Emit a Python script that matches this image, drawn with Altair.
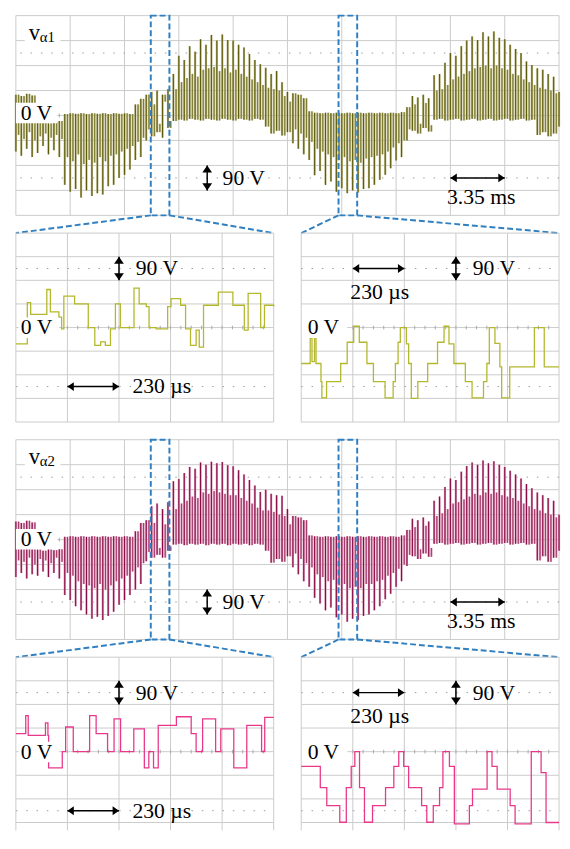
import altair as alt
import pandas as pd

# ---------------- data ----------------
# overview traces: one main switching pulse every 0.335 ms (0.1 div), values in V
OV_STEP = 0.335
OV_SPAN = 33.5            # 10 div x 3.35 ms
OV_X_GRID = [0, 3.35, 6.7, 10.05, 13.4, 16.75, 20.1, 23.45, 26.8, 30.15, 33.5]
V_GRID = [360, 270, 180, 90, 0, -90, -180, -270, -360]
DOT_V = [225, -225]

LO_A1 = [-130, -145, -120, -150, -135, -110, -140, -125, -150,
         -250, -275, -265, -296, -270, -290, -280, -285, -255, -250, -225, -214, -195, -160, -150, -90,
         -75, -60, -80, -45,
         -20, -15, -18, -12, -15, -18, -12, -15, -18, -12, -15, -18, -12, -15, -18, -12, -15,
         -40, -65, -55, -72, -60,
         -100, -120, -140,
         -160, -215, -200, -250, -238, -275, -262, -280, -270, -278, -265, -262, -250, -232, -214, -190, -162, -150,
         -90, -55, -65, -45, -58,
         -15, -12, -18, -15, -12, -18, -15, -12, -18, -15, -12, -18, -15, -12, -18, -15, -12, -18, -15,
         -70, -60, -75, -65, -40]
HI_A1 = [75, 70, 78, 72, -25, -20, -28, -22, -20,
         5, 8, 6, 8, 5, 8, 6, 8, 5, 8, 6, 8, 5, 40, 60, 75,
         85, 90, 75, 95,
         150, 215, 200, 250, 230, 275, 255, 290, 270, 292, 272, 270, 255, 245, 222, 200, 185,
         172, 150, 160, 120, 85,
         80, 75, 62,
         15, 10, 8, 10, 8, 10, 8, 10, 8, 10, 8, 10, 8, 10, 8, 10, 8, 12,
         30, 70, 65, 75, 62,
         145, 150, 190, 225, 215, 250, 270, 285, 272, 300, 285, 303, 280, 275, 255, 240, 225, 195, 182,
         170, 165, 150, 140, 85]
# shorter intermediate-level pulses between the main ones
MID_A1 = [-70, -85, -60, -90, -75, -65, -80, -70, -85,
          -150, -165, -140, -175, -160, -170, -150, -165, -145, -140, -130, -120, -110, -95, -80, -50,
          40, -30, 50, -20,
          95, 120, 135, 150, 140, 165, 170, 175, 160, 170, 155, 165, 150, 140, 130, 120, 110,
          100, 95, 90, 70, 50,
          -50, -65, -80,
          -95, -120, -130, -140, -150, -160, -150, -165, -160, -170, -155, -150, -145, -140, -130, -115, -100, -90,
          -50, 40, -30, 45, -35,
          90, 95, 110, 130, 140, 150, 160, 170, 175, 180, 170, 180, 170, 165, 150, 145, 130, 120, 110,
          100, 95, 90, 80]

LO_A2 = [-135, -120, -140, -125, -130, -115, -135, -120, -140,
         -200, -218, -240, -255, -270, -285, -278, -290, -275, -260, -235, -218, -200, -180, -160, -78,
         -65, -55, -65, -40,
         -18, -15, -20, -15, -18, -15, -20, -15, -18, -15, -20, -15, -18, -15, -20, -15, -18,
         -40, -83, -70, -80, -60,
         -100, -125, -150,
         -170, -210, -230, -255, -245, -280, -270, -296, -285, -290, -275, -270, -255, -240, -215, -195, -170, -150,
         -95, -60, -70, -50, -62,
         -15, -12, -18, -15, -12, -18, -15, -12, -18, -15, -12, -18, -15, -12, -18, -15, -12, -18, -15,
         -75, -60, -80, -65, -40]
HI_A2 = [65, 60, 68, 62, -35, -40, -30, -38, -35,
         10, 12, 10, 12, 10, 12, 10, 12, 10, 12, 10, 12, 10, 30, 60, 70,
         120, 130, 110, 135,
         210, 218, 240, 262, 255, 278, 270, 281, 275, 280, 268, 264, 250, 235, 215, 195, 172,
         180, 165, 160, 158, 110,
         85, 80, 70,
         15, 12, 10, 12, 10, 12, 10, 12, 10, 12, 10, 12, 10, 12, 10, 12, 10, 15,
         35, 75, 70, 80, 65,
         140, 155, 190, 220, 215, 245, 265, 278, 270, 285, 275, 282, 270, 262, 248, 235, 220, 200, 185,
         170, 160, 150, 140, 90]
MID_A2 = [-75, -80, -65, -90, -70, -75, -85, -65, -80,
          -120, -130, -150, -160, -165, -175, -160, -180, -165, -150, -140, -130, -115, -100, -85, -45,
          60, -30, 55, -25,
          110, 130, 140, 155, 150, 170, 165, 175, 170, 165, 160, 160, 150, 140, 130, 115, 105,
          105, 100, 90, 85, 55,
          -50, -70, -85,
          -100, -125, -135, -150, -145, -165, -160, -175, -170, -175, -160, -160, -150, -145, -130, -120, -105, -90,
          -55, 45, -35, 50, -30,
          85, 95, 110, 130, 135, 145, 155, 165, 160, 170, 165, 170, 160, 155, 150, 140, 130, 120, 110,
          105, 95, 90, 80]

# zoom windows (ms) marked by the dashed boxes
BOX_START = [8.32, 19.9]
BOX_END = [9.47, 21.05]

# zoomed traces: step sequences (time in us, level in V)
ZM_SPAN = 1150            # 5 div x 230 us
ZM_X_GRID = [0, 230, 460, 690, 920, 1150]

ZA1_T = [0, 51, 66, 138, 154, 192, 204, 214, 262, 323, 352, 378, 399, 422, 444, 466, 527, 550, 582, 594,
         626, 677, 692, 735, 757, 779, 804, 818, 837, 903, 968, 1019, 1036, 1092, 1109, 1150]
ZA1_V = [-62, 95, 50, 145, 60, 40, -5, 120, 90, 0, -68, -55, -68, -5, 90, 0, 150, 90, 80, 0,
         -5, 80, 110, 85, -5, -68, -10, -75, 85, 135, 85, -10, 130, 0, 85, 80]
ZB1_T = [0, 40, 48, 59, 66, 88, 92, 113, 176, 205, 234, 259, 293, 322, 374, 410, 420, 432, 442, 469,
         479, 491, 520, 564, 608, 637, 659, 681, 732, 762, 813, 828, 839, 864, 886, 894, 930, 1040, 1084, 1150]
ZB1_V = [-137, -40, -130, -40, -137, -206, -268, -206, -137, -56, 5, -56, -137, -206, -268, -206, -137, -56, 0, -62,
         -137, -270, -206, -137, -56, 5, -62, -137, -206, -268, -206, -137, 0, -60, -150, -268, -150, 0, -150, -150]
ZA2_T = [0, 44, 55, 132, 143, 146, 207, 222, 256, 329, 358, 409, 438, 467, 526, 573, 593, 614, 635, 716,
         782, 804, 833, 891, 914, 972, 1030, 1096, 1110, 1150]
ZA2_V = [69, 137, 62, 110, 62, -62, 0, 94, 0, 137, 69, 0, 125, 0, 87, -62, 0, -62, 100, 133,
         69, 0, 125, 0, 87, -62, 100, 0, 131, 131]
ZB2_T = [0, 85, 114, 172, 201, 223, 239, 260, 282, 318, 376, 413, 435, 457, 479, 537, 560, 589, 617, 632,
         661, 683, 750, 764, 829, 851, 874, 932, 954, 1026, 1070, 1092, 1150]
ZB2_V = [-56, -137, -206, -269, -137, -56, 0, -137, -269, -206, -137, -56, 0, -56, -137, -206, -269, -206, -137, 0,
         -56, -275, -206, -143, 0, -56, -143, -206, -275, 0, -80, -270, -270]

# ---------------- style / layout ----------------
FONT = "Liberation Serif"
FS = 22
GRID_C = "#cbcbcb"
DOT_C = "#9c9c9c"
TICK_C = "#a8a8a8"
BLUE = "#2f7fc1"
OLIVE_DARK, OLIVE_LIGHT = "#5e5b0b", "#bbb884"
MAROON_DARK, MAROON_LIGHT = "#8a0c46", "#d894b4"
YELLOW, PINK = "#b3b82c", "#e8388a"

OV_W = 552
OV_H = 203
ZP_W, ZP_GAP = 262, 28          # each zoom panel and the gap between them (px)
ZP_DIV = 24                     # px per vertical division in the zoom panels
ZH1, ZH2 = 192, 176
ROW_GAP = 18
US_PX = ZM_SPAN / ZP_W
R_OFF = (ZP_W + ZP_GAP) * US_PX          # right zoom panel offset on the shared row scale
ROW_SPAN = OV_W * US_PX

UP = "M0,0L0.9,1.3L-0.9,1.3Z"
DOWN = "M0,0L0.9,-1.3L-0.9,-1.3Z"
LEFT = "M0,0L1.3,-0.9L1.3,0.9Z"
RIGHT = "M0,0L-1.3,-0.9L-1.3,0.9Z"
MU = "\u00b5"


def X(f, xs):
    return alt.X(f, type="quantitative", scale=xs, axis=None)


def Y(f, ys):
    return alt.Y(f, type="quantitative", scale=ys, axis=None)


def text_layer(rows, xs, ys, align="left", baseline="middle", size=FS):
    df = pd.DataFrame(rows, columns=["x", "y", "s"])
    return alt.Chart(df).mark_text(font=FONT, fontSize=size, align=align, baseline=baseline,
                                   color="black").encode(x=X("x", xs), y=Y("y", ys), text="s:N")


def white_box(x0, x1, y0, y1, xs, ys):
    df = pd.DataFrame({"x": [x0], "x2": [x1], "y": [y0], "y2": [y1]})
    return alt.Chart(df).mark_rect(color="white", opacity=1).encode(
        x=X("x", xs), x2="x2:Q", y=Y("y", ys), y2="y2:Q")


def v_arrow(xv, y0, y1, xs, ys):
    line = alt.Chart(pd.DataFrame({"x": [xv], "y": [y0], "y2": [y1]})).mark_rule(
        color="black", strokeWidth=1.5).encode(x=X("x", xs), y=Y("y", ys), y2="y2:Q")
    heads = alt.Chart(pd.DataFrame({"x": [xv, xv], "y": [y0, y1], "s": [UP, DOWN]})).mark_point(
        filled=True, color="black", opacity=1, size=121).encode(
        x=X("x", xs), y=Y("y", ys), shape=alt.Shape("s:N", scale=None))
    return [line, heads]


def h_arrow(x0, x1, yv, xs, ys):
    line = alt.Chart(pd.DataFrame({"x": [x0], "x2": [x1], "y": [yv]})).mark_rule(
        color="black", strokeWidth=1.5).encode(x=X("x", xs), x2="x2:Q", y=Y("y", ys))
    heads = alt.Chart(pd.DataFrame({"x": [x0, x1], "y": [yv, yv], "s": [LEFT, RIGHT]})).mark_point(
        filled=True, color="black", opacity=1, size=100).encode(
        x=X("x", xs), y=Y("y", ys), shape=alt.Shape("s:N", scale=None))
    return [line, heads]


def center_ticks(x0, x1, step, half_v, xs, ys):
    # small graticule ticks along the 0 V line
    n = int(round((x1 - x0) / step))
    df = pd.DataFrame({"x": [x0 + i * step for i in range(1, n)], "a": [-half_v] * (n - 1), "b": [half_v] * (n - 1)})
    return alt.Chart(df).mark_rule(color=TICK_C, strokeWidth=1).encode(x=X("x", xs), y=Y("a", ys), y2="b:Q")


def overview(lo, hi, mid, dark, light, sub, zero_y):
    xs = alt.Scale(domain=[0, OV_SPAN], nice=False, zero=False)
    ys = alt.Scale(domain=[-360, 360], nice=False, zero=False)
    L = []
    L.append(alt.Chart(pd.DataFrame({"g": OV_X_GRID})).mark_rule(color=GRID_C, strokeWidth=1).encode(x=X("g", xs)))
    L.append(alt.Chart(pd.DataFrame({"g": V_GRID})).mark_rule(color=GRID_C, strokeWidth=1).encode(y=Y("g", ys)))
    L.append(alt.Chart(pd.DataFrame({"g": DOT_V})).mark_rule(
        color=DOT_C, strokeDash=[1.5, 9], strokeWidth=1).encode(y=Y("g", ys)))
    L.append(center_ticks(0, OV_SPAN, OV_SPAN / 50, 7, xs, ys))
    main = pd.DataFrame({"t": [round(i * OV_STEP, 4) for i in range(len(lo))], "lo": lo, "hi": hi})
    # intermediate pulses start from the main pulse's resting level (the end nearer 0 V)
    rest = [h if abs(h) < abs(l) else l for l, h in zip(lo, hi)]
    sec = pd.DataFrame({"t": [round((i + 0.5) * OV_STEP, 4) for i in range(len(mid))],
                        "a": rest[:len(mid)], "b": mid})
    L.append(alt.Chart(sec).mark_rule(color=light, strokeWidth=2.2).encode(x=X("t", xs), y=Y("a", ys), y2="b:Q"))
    L.append(alt.Chart(main).mark_rule(color=light, strokeWidth=2.2).encode(x=X("t", xs), y=Y("lo", ys), y2="hi:Q"))
    L.append(alt.Chart(sec).mark_rule(color=dark, strokeWidth=0.8, opacity=0.85).encode(
        x=X("t", xs), y=Y("a", ys), y2="b:Q"))
    L.append(alt.Chart(main).mark_rule(color=dark, strokeWidth=1.1).encode(x=X("t", xs), y=Y("lo", ys), y2="hi:Q"))
    bdf = pd.DataFrame({"a": BOX_START, "b": BOX_END, "y0": [-360] * 2, "y1": [360] * 2})
    L.append(alt.Chart(bdf).mark_rect(filled=False, stroke=BLUE, strokeDash=[6, 3], strokeWidth=2).encode(
        x=X("a", xs), x2="b:Q", y=Y("y0", ys), y2="y1:Q"))
    # dashed connectors down to the zoom panels of the next row
    edges = [0, ZP_W / OV_W * OV_SPAN, (ZP_W + ZP_GAP) / OV_W * OV_SPAN, OV_SPAN]
    y_low = -360 - ROW_GAP / (OV_H / 8) * 90
    cdf = pd.DataFrame({"x": [BOX_START[0], BOX_END[0], BOX_START[1], BOX_END[1]],
                        "y": [-360] * 4, "x2": edges, "y2": [y_low] * 4})
    L.append(alt.Chart(cdf).mark_rule(stroke=BLUE, strokeDash=[6, 3], strokeWidth=2).encode(
        x=X("x", xs), y=Y("y", ys), x2="x2:Q", y2="y2:Q"))
    L.append(white_box(0.0, 2.55, zero_y - 36, zero_y + 38, xs, ys))
    L.append(text_layer([(0.3, zero_y, "0 V")], xs, ys))
    L.append(white_box(0.55, 2.75, 250, 305, xs, ys))
    L.append(text_layer([(0.8, 271, "v")], xs, ys, baseline="alphabetic", size=23))
    L.append(text_layer([(1.47, 264, sub)], xs, ys, baseline="alphabetic", size=15))
    L += v_arrow(11.8, -180, -270, xs, ys)
    L.append(text_layer([(12.75, -226, "90 V")], xs, ys))
    L += h_arrow(26.8, 30.15, -225, xs, ys)
    L.append(text_layer([(28.7, -295, "3.35 ms")], xs, ys, align="center"))
    return alt.layer(*L).properties(width=OV_W, height=OV_H)


def zoom_row(tl, vl, tr, vr, color, height):
    ybot = 360 - height / ZP_DIV * 90
    xs = alt.Scale(domain=[0, ROW_SPAN], nice=False, zero=False)
    ys = alt.Scale(domain=[ybot, 360], nice=False, zero=False)
    offs = [0, R_OFF]
    L = []
    vx = pd.DataFrame({"g": [g + o for o in offs for g in ZM_X_GRID]})
    L.append(alt.Chart(vx).mark_rule(color=GRID_C, strokeWidth=1).encode(x=X("g", xs)))
    hy = pd.DataFrame([(o, o + ZM_SPAN, g) for o in offs for g in V_GRID if g >= ybot], columns=["a", "b", "g"])
    L.append(alt.Chart(hy).mark_rule(color=GRID_C, strokeWidth=1).encode(x=X("a", xs), x2="b:Q", y=Y("g", ys)))
    dy = pd.DataFrame([(o, o + ZM_SPAN, g) for o in offs for g in DOT_V if g >= ybot], columns=["a", "b", "g"])
    L.append(alt.Chart(dy).mark_rule(color=DOT_C, strokeDash=[1.5, 9], strokeWidth=1).encode(
        x=X("a", xs), x2="b:Q", y=Y("g", ys)))
    for o in offs:
        L.append(center_ticks(o, o + ZM_SPAN, ZM_SPAN / 25, 7, xs, ys))
    for t, v, o in ((tl, vl, 0), (tr, vr, R_OFF)):
        df = pd.DataFrame({"t": [x + o for x in t], "v": v})
        L.append(alt.Chart(df).mark_line(color=color, strokeWidth=1.3, interpolate="step-after").encode(
            x=X("t", xs), y=Y("v", ys)))
    # left panel labels
    L.append(white_box(12, 192, -40, 38, xs, ys))
    L.append(text_layer([(22, 0, "0 V")], xs, ys))
    L += h_arrow(230, 460, -225, xs, ys)
    L.append(text_layer([(520, -225, "230 " + MU + "s")], xs, ys))
    L += v_arrow(460, 270, 180, xs, ys)
    L.append(text_layer([(535, 225, "90 V")], xs, ys))
    # right panel labels
    o = R_OFF
    L.append(white_box(o + 3, o + 205, -40, 33, xs, ys))
    L.append(text_layer([(o + 29, 0, "0 V")], xs, ys))
    L += h_arrow(o + 230, o + 460, 225, xs, ys)
    L.append(text_layer([(o + 350, 135, "230 " + MU + "s")], xs, ys, align="center"))
    L += v_arrow(o + 690, 270, 180, xs, ys)
    L.append(text_layer([(o + 765, 225, "90 V")], xs, ys))
    return alt.layer(*L).properties(width=OV_W, height=height)


ov1 = overview(LO_A1, HI_A1, MID_A1, OLIVE_DARK, OLIVE_LIGHT, "α1", 8)
ov2 = overview(LO_A2, HI_A2, MID_A2, MAROON_DARK, MAROON_LIGHT, "α2", 0)
row1 = zoom_row(ZA1_T, ZA1_V, ZB1_T, ZB1_V, YELLOW, ZH1)
row2 = zoom_row(ZA2_T, ZA2_V, ZB2_T, ZB2_V, PINK, ZH2)

chart = alt.vconcat(ov1, row1, ov2, row2, spacing=ROW_GAP, bounds="flush").properties(
    padding={"left": 5, "top": 0, "right": 0, "bottom": 0},
    background="white",
).configure_view(stroke=None)

chart.save("out.html", embed_options={"renderer": "svg", "actions": False})
